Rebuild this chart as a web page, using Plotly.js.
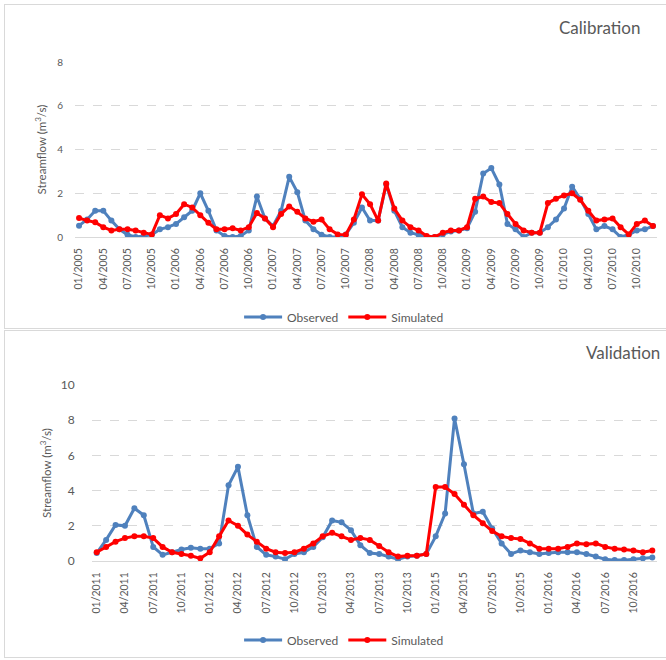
<!DOCTYPE html>
<html>
<head>
<meta charset="utf-8">
<script src="https://cdn.plot.ly/plotly-3.0.1.min.js"></script>
<style>
  html, body { margin: 0; padding: 0; background: #ffffff; width: 666px; height: 660px; overflow: hidden; }
  .panel { position: absolute; border: 1px solid #d9d9d9; background: #fff; }
  #cal { left: 4px; top: 4px; width: 661px; height: 323px; }
  #val { left: 4px; top: 330px; width: 661px; height: 326px; }
</style>
</head>
<body>
<div id="cal" class="panel"></div>
<div id="val" class="panel"></div>
<script>
// ---------- Calibration data (monthly 01/2005 - 12/2010) ----------
const calYears = [2005, 2006, 2007, 2008, 2009, 2010];
const calObserved = [
  0.52, 0.8, 1.2, 1.2, 0.75, 0.35, 0.1, 0.0, 0.05, 0.1, 0.35, 0.45,
  0.6, 0.9, 1.2, 2.0, 1.2, 0.3, 0.05, 0.0, 0.05, 0.3, 1.85, 0.85,
  0.5, 1.2, 2.75, 2.05, 0.75, 0.35, 0.1, 0.0, 0.0, 0.12, 0.65, 1.35,
  0.75, 0.75, 2.4, 1.2, 0.45, 0.2, 0.1, 0.0, 0.0, 0.12, 0.25, 0.3,
  0.4, 1.15, 2.9, 3.15, 2.4, 0.6, 0.35, 0.0, 0.2, 0.2, 0.45, 0.8,
  1.3, 2.3, 1.75, 1.05, 0.35, 0.5, 0.35, 0.0, 0.1, 0.3, 0.35, 0.5
];
const calSimulated = [
  0.87, 0.75, 0.67, 0.45, 0.3, 0.35, 0.35, 0.3, 0.2, 0.12, 1.0, 0.85,
  1.05, 1.5, 1.35, 1.0, 0.65, 0.35, 0.35, 0.4, 0.3, 0.45, 1.1, 0.85,
  0.45, 1.05, 1.4, 1.15, 0.85, 0.7, 0.8, 0.35, 0.12, 0.1, 0.8, 1.95,
  1.5, 0.75, 2.45, 1.3, 0.75, 0.45, 0.3, 0.05, 0.0, 0.2, 0.3, 0.3,
  0.45, 1.75, 1.85, 1.6, 1.55, 1.05, 0.6, 0.3, 0.2, 0.2, 1.55, 1.75,
  1.9, 2.0, 1.7, 1.2, 0.75, 0.8, 0.85, 0.45, 0.12, 0.6, 0.75, 0.5
];

// ---------- Validation data (monthly, 2011-2013 and 2015-2016) ----------
const valYears = [2011, 2012, 2013, 2015, 2016];
const valObserved = [
  0.45, 1.2, 2.05, 2.0, 3.0, 2.6, 0.8, 0.35, 0.5, 0.65, 0.75, 0.7,
  0.7, 1.0, 4.3, 5.35, 2.6, 0.8, 0.35, 0.25, 0.1, 0.4, 0.5, 0.8,
  1.35, 2.3, 2.2, 1.75, 0.9, 0.45, 0.4, 0.25, 0.1, 0.25, 0.3, 0.4,
  1.4, 2.7, 8.1, 5.5, 2.7, 2.8, 1.85, 1.0, 0.4, 0.6, 0.5, 0.4,
  0.45, 0.5, 0.5, 0.5, 0.4, 0.25, 0.1, 0.05, 0.05, 0.1, 0.15, 0.2
];
const valSimulated = [
  0.5, 0.8, 1.1, 1.3, 1.4, 1.4, 1.3, 0.8, 0.5, 0.4, 0.3, 0.15,
  0.5, 1.4, 2.3, 2.0, 1.5, 1.1, 0.7, 0.5, 0.45, 0.5, 0.7, 1.0,
  1.4, 1.6, 1.4, 1.2, 1.3, 1.2, 0.85, 0.5, 0.25, 0.3, 0.3, 0.4,
  4.2, 4.2, 3.8, 3.2, 2.6, 2.15, 1.7, 1.4, 1.3, 1.25, 1.0, 0.7,
  0.7, 0.7, 0.8, 1.0, 0.95, 1.0, 0.8, 0.7, 0.65, 0.6, 0.5, 0.6
];

const seriesNames = ['Observed', 'Simulated'];
const panelTitles = ['Calibration', 'Validation'];
const yTitle = 'Streamflow (m<sup>3</sup>/s)';

function monthLabels(years) {
  const out = [];
  years.forEach(y => {
    for (let m = 1; m <= 12; m++) out.push((m < 10 ? '0' : '') + m + '/' + y);
  });
  return out;
}
const calMonths = monthLabels(calYears);
const valMonths = monthLabels(valYears);
const calTicks = calMonths.filter((_, i) => i % 3 === 0);
const valTicks = valMonths.filter((_, i) => i % 3 === 0);

const FONT = 'Lato, "Open Sans", "DejaVu Sans", sans-serif';
const GRAY = '#595959';
const BLUE = '#4f81bd';
const RED = '#ff0000';

function makeTraces(x, obs, sim) {
  return [
    { x: x, y: obs, name: seriesNames[0], type: 'scatter', mode: 'lines+markers',
      line: { color: BLUE, width: 3 }, marker: { color: BLUE, size: 6, symbol: 'circle' } },
    { x: x, y: sim, name: seriesNames[1], type: 'scatter', mode: 'lines+markers',
      line: { color: RED, width: 3 }, marker: { color: RED, size: 6, symbol: 'circle' } }
  ];
}

function makeLayout(opts) {
  return {
    width: opts.w, height: opts.h,
    margin: { l: opts.l, r: opts.r, t: opts.t, b: opts.b, pad: 0 },
    paper_bgcolor: '#ffffff', plot_bgcolor: '#ffffff',
    font: { family: FONT, color: GRAY, size: 10 },
    showlegend: true,
    legend: {
      orientation: 'h', xref: 'container', yref: 'container',
      x: opts.legX, y: opts.legY, xanchor: 'center', yanchor: 'middle',
      font: { family: FONT, size: 12, color: GRAY }, itemwidth: 38,
      bgcolor: 'rgba(0,0,0,0)'
    },
    xaxis: {
      type: 'category', categoryorder: 'array', categoryarray: opts.cats,
      range: [-0.5, opts.cats.length - 0.5],
      tickmode: 'array', tickvals: opts.ticks, ticktext: opts.ticks,
      tickangle: -90, tickfont: { family: FONT, size: 10.5, color: GRAY },
      showgrid: false, showline: false, zeroline: false,
      ticks: 'outside', ticklen: 6, tickcolor: 'rgba(0,0,0,0)'
    },
    yaxis: {
      range: opts.yr, dtick: 2, tick0: 0,
      showgrid: true, gridcolor: '#d9d9d9', griddash: 'dash', gridwidth: 1,
      zeroline: true, zerolinecolor: '#d9d9d9', zerolinewidth: 1,
      showline: false, ticks: 'outside', ticklen: opts.ytl, tickcolor: 'rgba(0,0,0,0)',
      tickfont: { family: FONT, size: opts.ytf, color: GRAY },
      title: { text: yTitle, font: { family: FONT, size: 11.5, color: GRAY }, standoff: opts.standoff }
    },
    annotations: [{
      text: opts.title, xref: 'paper', yref: 'paper',
      x: opts.tx, y: opts.ty, xanchor: 'center', yanchor: 'middle', showarrow: false,
      font: { family: FONT, size: opts.tfs, color: GRAY }
    }]
  };
}

const cfg = { displayModeBar: false, staticPlot: true };

Plotly.newPlot('cal', makeTraces(calMonths, calObserved, calSimulated), makeLayout({
  w: 661, h: 323, l: 70, r: 9, t: 57, b: 91, cats: calMonths, ticks: calTicks,
  yr: [0, 8], ytf: 10, ytl: 9, standoff: 8,
  legX: 0.513, legY: 0.034, title: panelTitles[0], tx: 0.902, ty: 1.2, tfs: 17
}), cfg);

Plotly.newPlot('val', makeTraces(valMonths, valObserved, valSimulated), makeLayout({
  w: 661, h: 326, l: 87, r: 9, t: 54, b: 96, cats: valMonths, ticks: valTicks,
  yr: [0, 10], ytf: 12, ytl: 14, standoff: 6,
  legX: 0.513, legY: 0.052, title: panelTitles[1], tx: 0.94, ty: 1.1875, tfs: 17
}), cfg);
</script>
</body>
</html>
